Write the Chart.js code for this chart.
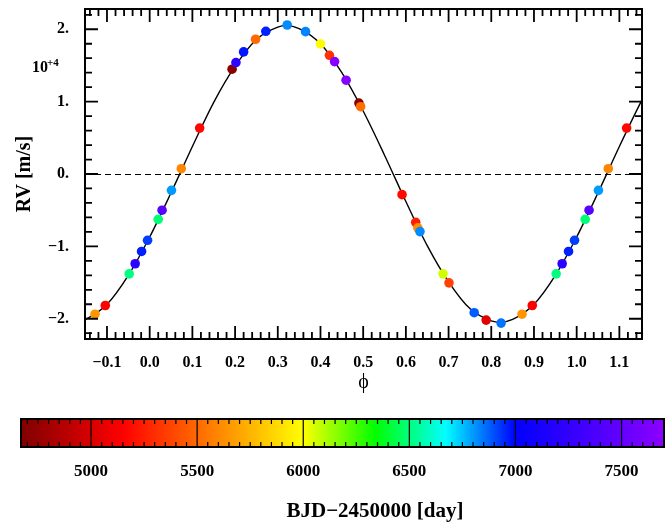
<!DOCTYPE html>
<html>
<head>
<meta charset="utf-8">
<script src="https://cdn.jsdelivr.net/npm/chart.js@4"></script>
<style>
  body { margin: 0; background: #fff; }
  #wrap { position: relative; width: 672px; height: 530px; }
  #rvChart { position: absolute; left: 0; top: 0; }
  #barChart { position: absolute; left: 0; top: 400px; }
</style>
</head>
<body>
<div id="wrap">
  <canvas id="rvChart" width="672" height="400"></canvas>
  <canvas id="barChart" width="672" height="130"></canvas>
</div>
<script>
// observations: orbital phase, RV (x 10^4 m/s) and epoch (BJD-2450000)
var obsPhase = [0.872, 0.896, 0.952, 0.966, 0.981, 0.995, 0.020, 0.029, 0.051, 0.074,
                0.117, 0.193, 0.202, 0.220, 0.248, 0.272, 0.322, 0.365, 0.400, 0.421,
                0.433, 0.460, 0.490, 0.494, 0.591, 0.623, 0.628, 0.633, 0.687, 0.701,
                0.760, 0.788, 0.823];
var obsRV = [-1.937, -1.817, -1.380, -1.240, -1.070, -0.916, -0.626, -0.500, -0.226, 0.073,
             0.634, 1.448, 1.540, 1.687, 1.862, 1.972, 2.059, 1.967, 1.797, 1.640,
             1.553, 1.296, 0.980, 0.930, -0.285, -0.667, -0.745, -0.796, -1.380, -1.504,
             -1.917, -2.019, -2.060];
var obsBJD = [5650, 5150, 6505, 7220, 6960, 6920, 6490, 7450, 6800, 5600,
              5170, 4700, 7230, 6970, 5500, 6960, 6820, 6830, 5990, 5320,
              7680, 7670, 4720, 5520, 5180, 5250, 5620, 6820, 6060, 5370,
              6880, 5030, 6850];

// model curve
var modelPhase = [-0.16, -0.15, -0.10, -0.05, 0.00, 0.05, 0.10, 0.15, 0.20, 0.25,
                  0.30, 0.32, 0.35, 0.40, 0.45, 0.50, 0.55, 0.60, 0.65, 0.70,
                  0.75, 0.80, 0.82, 0.85, 0.90, 0.95, 1.00, 1.05, 1.10, 1.15, 1.16];
var modelRV = [-2.03, -2.01, -1.80, -1.40, -0.87, -0.26, 0.38, 0.99, 1.49, 1.86,
               2.03, 2.05, 2.01, 1.80, 1.40, 0.87, 0.26, -0.38, -0.99, -1.49,
               -1.86, -2.03, -2.05, -2.01, -1.80, -1.40, -0.87, -0.26, 0.38, 0.99, 1.10];

var phaseTicks = [-0.1, 0.0, 0.1, 0.2, 0.3, 0.4, 0.5, 0.6, 0.7, 0.8, 0.9, 1.0, 1.1];
var rvTicks = [-2, -1, 0, 1, 2];
var bjdTicks = [5000, 5500, 6000, 6500, 7000, 7500];

var phaseRange = [-0.1515, 1.153];
var rvRange = [-2.28, 2.28];
var bjdRange = [4670, 7700];

// colour bar stops (BJD -> rgb)
var cmapBJD = [4670, 5150, 6000, 6340, 6670, 7000, 7700];
var cmapRGB = [[128, 0, 0], [255, 0, 0], [255, 255, 0], [0, 255, 0], [0, 255, 255], [0, 0, 255], [140, 0, 255]];

Chart.defaults.font.family = '"Liberation Serif", "Times New Roman", serif';
Chart.defaults.color = '#000';

function rgb(c) {
    return 'rgb(' + Math.round(c[0]) + ',' + Math.round(c[1]) + ',' + Math.round(c[2]) + ')';
}

function bjdColor(t) {
    if (t <= cmapBJD[0]) return rgb(cmapRGB[0]);
    for (var i = 1; i < cmapBJD.length; i++) {
        if (t <= cmapBJD[i]) {
            var f = (t - cmapBJD[i - 1]) / (cmapBJD[i] - cmapBJD[i - 1]);
            var a = cmapRGB[i - 1], b = cmapRGB[i];
            return rgb([a[0] + (b[0] - a[0]) * f, a[1] + (b[1] - a[1]) * f, a[2] + (b[2] - a[2]) * f]);
        }
    }
    return rgb(cmapRGB[cmapRGB.length - 1]);
}

function minusSign(s) {
    return s.replace('-', '\u2212');
}

// phase-folded points, repeated outside [0,1) where the axis shows them
var pts = [], ptColors = [];
obsPhase.forEach(function(p, i) {
    [p - 1, p, p + 1].forEach(function(q) {
        if (q >= phaseRange[0] && q <= phaseRange[1]) {
            pts.push({ x: q, y: obsRV[i] });
            ptColors.push(bjdColor(obsBJD[i]));
        }
    });
});

var modelPts = modelPhase.map(function(p, i) { return { x: p, y: modelRV[i] }; });

// frame, inward ticks, zero line and the 10^+4 multiplier
var rvFrame = {
    id: 'rvFrame',
    beforeDatasetsDraw: function(chart) {
        var ctx = chart.ctx, a = chart.chartArea;
        var y0 = Math.round(chart.scales.y.getPixelForValue(0)) + 0.5;
        ctx.save();
        ctx.strokeStyle = '#000';
        ctx.lineWidth = 1;
        ctx.setLineDash([6, 4]);
        ctx.beginPath();
        ctx.moveTo(a.left, y0);
        ctx.lineTo(a.right, y0);
        ctx.stroke();
        ctx.restore();
    },
    afterDatasetsDraw: function(chart) {
        var ctx = chart.ctx, a = chart.chartArea;
        var xs = chart.scales.x, ys = chart.scales.y;
        ctx.save();
        ctx.strokeStyle = '#000';
        ctx.lineWidth = 1.8;
        ctx.beginPath();
        var i, v, px, len;
        for (i = Math.ceil(phaseRange[0] / 0.02); i <= Math.floor(phaseRange[1] / 0.02); i++) {
            v = i * 0.02;
            px = xs.getPixelForValue(v);
            len = (i % 5 === 0) ? 13 : 7;
            ctx.moveTo(px, a.bottom); ctx.lineTo(px, a.bottom - len);
            ctx.moveTo(px, a.top); ctx.lineTo(px, a.top + len);
        }
        for (i = Math.ceil(rvRange[0] / 0.2); i <= Math.floor(rvRange[1] / 0.2); i++) {
            v = i * 0.2;
            px = ys.getPixelForValue(v);
            len = (i % 5 === 0) ? 13 : 7;
            ctx.moveTo(a.left, px); ctx.lineTo(a.left + len, px);
            ctx.moveTo(a.right, px); ctx.lineTo(a.right - len, px);
        }
        ctx.stroke();
        ctx.lineWidth = 2;
        ctx.strokeRect(a.left, a.top, a.right - a.left, a.bottom - a.top);

        ctx.fillStyle = '#000';
        ctx.textBaseline = 'alphabetic';
        ctx.textAlign = 'left';
        ctx.font = 'bold 16px "Liberation Serif", serif';
        ctx.fillText('10', 32, 72);
        ctx.font = 'bold 11px "Liberation Serif", serif';
        ctx.fillText('+4', 47, 66);
        ctx.restore();
    }
};

new Chart(document.getElementById('rvChart'), {
    type: 'scatter',
    data: {
        datasets: [
            {
                label: 'RV',
                data: pts,
                pointBackgroundColor: ptColors,
                pointBorderWidth: 0,
                pointRadius: 4.8,
                order: 0
            },
            {
                type: 'line',
                label: 'Model',
                data: modelPts,
                borderColor: '#000',
                borderWidth: 1.4,
                pointRadius: 0,
                fill: false,
                cubicInterpolationMode: 'monotone',
                order: 1
            }
        ]
    },
    options: {
        responsive: false,
        animation: false,
        layout: { padding: { left: 0, right: 30, top: 9, bottom: 0 } },
        plugins: { legend: { display: false }, tooltip: { enabled: false } },
        scales: {
            x: {
                type: 'linear',
                min: phaseRange[0],
                max: phaseRange[1],
                grid: { display: false, drawTicks: false },
                border: { display: false },
                afterBuildTicks: function(s) { s.ticks = phaseTicks.map(function(v) { return { value: v }; }); },
                afterFit: function(s) { s.height = 61; s.paddingLeft = 0; s.paddingRight = 0; },
                ticks: {
                    autoSkip: false,
                    maxRotation: 0,
                    padding: 14,
                    font: { size: 16, weight: 'bold' },
                    callback: function(v) { return minusSign(v.toFixed(1)); }
                },
                title: { display: true, text: '\u03D5', font: { size: 20 }, padding: { top: 0, bottom: 5 } }
            },
            y: {
                type: 'linear',
                min: rvRange[0],
                max: rvRange[1],
                grid: { display: false, drawTicks: false },
                border: { display: false },
                afterBuildTicks: function(s) { s.ticks = rvTicks.map(function(v) { return { value: v }; }); },
                afterFit: function(s) { s.width = 85; s.paddingTop = 0; s.paddingBottom = 0; },
                ticks: {
                    autoSkip: false,
                    padding: 16,
                    font: { size: 16, weight: 'bold' },
                    callback: function(v) { return minusSign(v.toFixed(0)) + '.'; }
                },
                title: { display: true, text: 'RV [m/s]', font: { size: 20, weight: 'bold' }, padding: { top: 13, bottom: 0 } }
            }
        }
    },
    plugins: [rvFrame]
});

// colour bar for the observation epochs
var colorBar = {
    id: 'colorBar',
    beforeDatasetsDraw: function(chart) {
        var ctx = chart.ctx, a = chart.chartArea, xs = chart.scales.x;
        var w = a.right - a.left;
        ctx.save();
        var g = ctx.createLinearGradient(a.left, 0, a.right, 0);
        cmapBJD.forEach(function(t, i) {
            var f = (xs.getPixelForValue(t) - a.left) / w;
            g.addColorStop(Math.min(1, Math.max(0, f)), rgb(cmapRGB[i]));
        });
        ctx.fillStyle = g;
        ctx.fillRect(a.left, a.top, w, a.bottom - a.top);

        ctx.strokeStyle = '#000';
        ctx.lineWidth = 1.2;
        ctx.beginPath();
        for (var t = Math.ceil(bjdRange[0] / 50) * 50; t <= bjdRange[1]; t += 50) {
            var px = xs.getPixelForValue(t);
            if (t % 500 === 0) {
                ctx.moveTo(px, a.top); ctx.lineTo(px, a.bottom);
            } else {
                ctx.moveTo(px, a.top); ctx.lineTo(px, a.top + 5);
                ctx.moveTo(px, a.bottom); ctx.lineTo(px, a.bottom - 5);
            }
        }
        ctx.stroke();
        ctx.lineWidth = 2;
        ctx.strokeRect(a.left, a.top, w, a.bottom - a.top);

        ctx.fillStyle = '#000';
        ctx.font = 'bold 21px "Liberation Serif", serif';
        ctx.textAlign = 'center';
        ctx.textBaseline = 'middle';
        ctx.fillText('BJD\u22122450000 [day]', 375, 112);
        ctx.restore();
    }
};

new Chart(document.getElementById('barChart'), {
    type: 'scatter',
    data: { datasets: [] },
    options: {
        responsive: false,
        animation: false,
        layout: { padding: { left: 21, right: 8, top: 19, bottom: 0 } },
        plugins: { legend: { display: false }, tooltip: { enabled: false } },
        scales: {
            x: {
                type: 'linear',
                min: bjdRange[0],
                max: bjdRange[1],
                grid: { display: false, drawTicks: false },
                border: { display: false },
                afterBuildTicks: function(s) { s.ticks = bjdTicks.map(function(v) { return { value: v }; }); },
                afterFit: function(s) { s.height = 83; s.paddingLeft = 0; s.paddingRight = 0; },
                ticks: {
                    autoSkip: false,
                    maxRotation: 0,
                    padding: 14,
                    font: { size: 17, weight: 'bold' },
                    callback: function(v) { return String(v); }
                }
            },
            y: { display: false, min: 0, max: 1 }
        }
    },
    plugins: [colorBar]
});
</script>
</body>
</html>
